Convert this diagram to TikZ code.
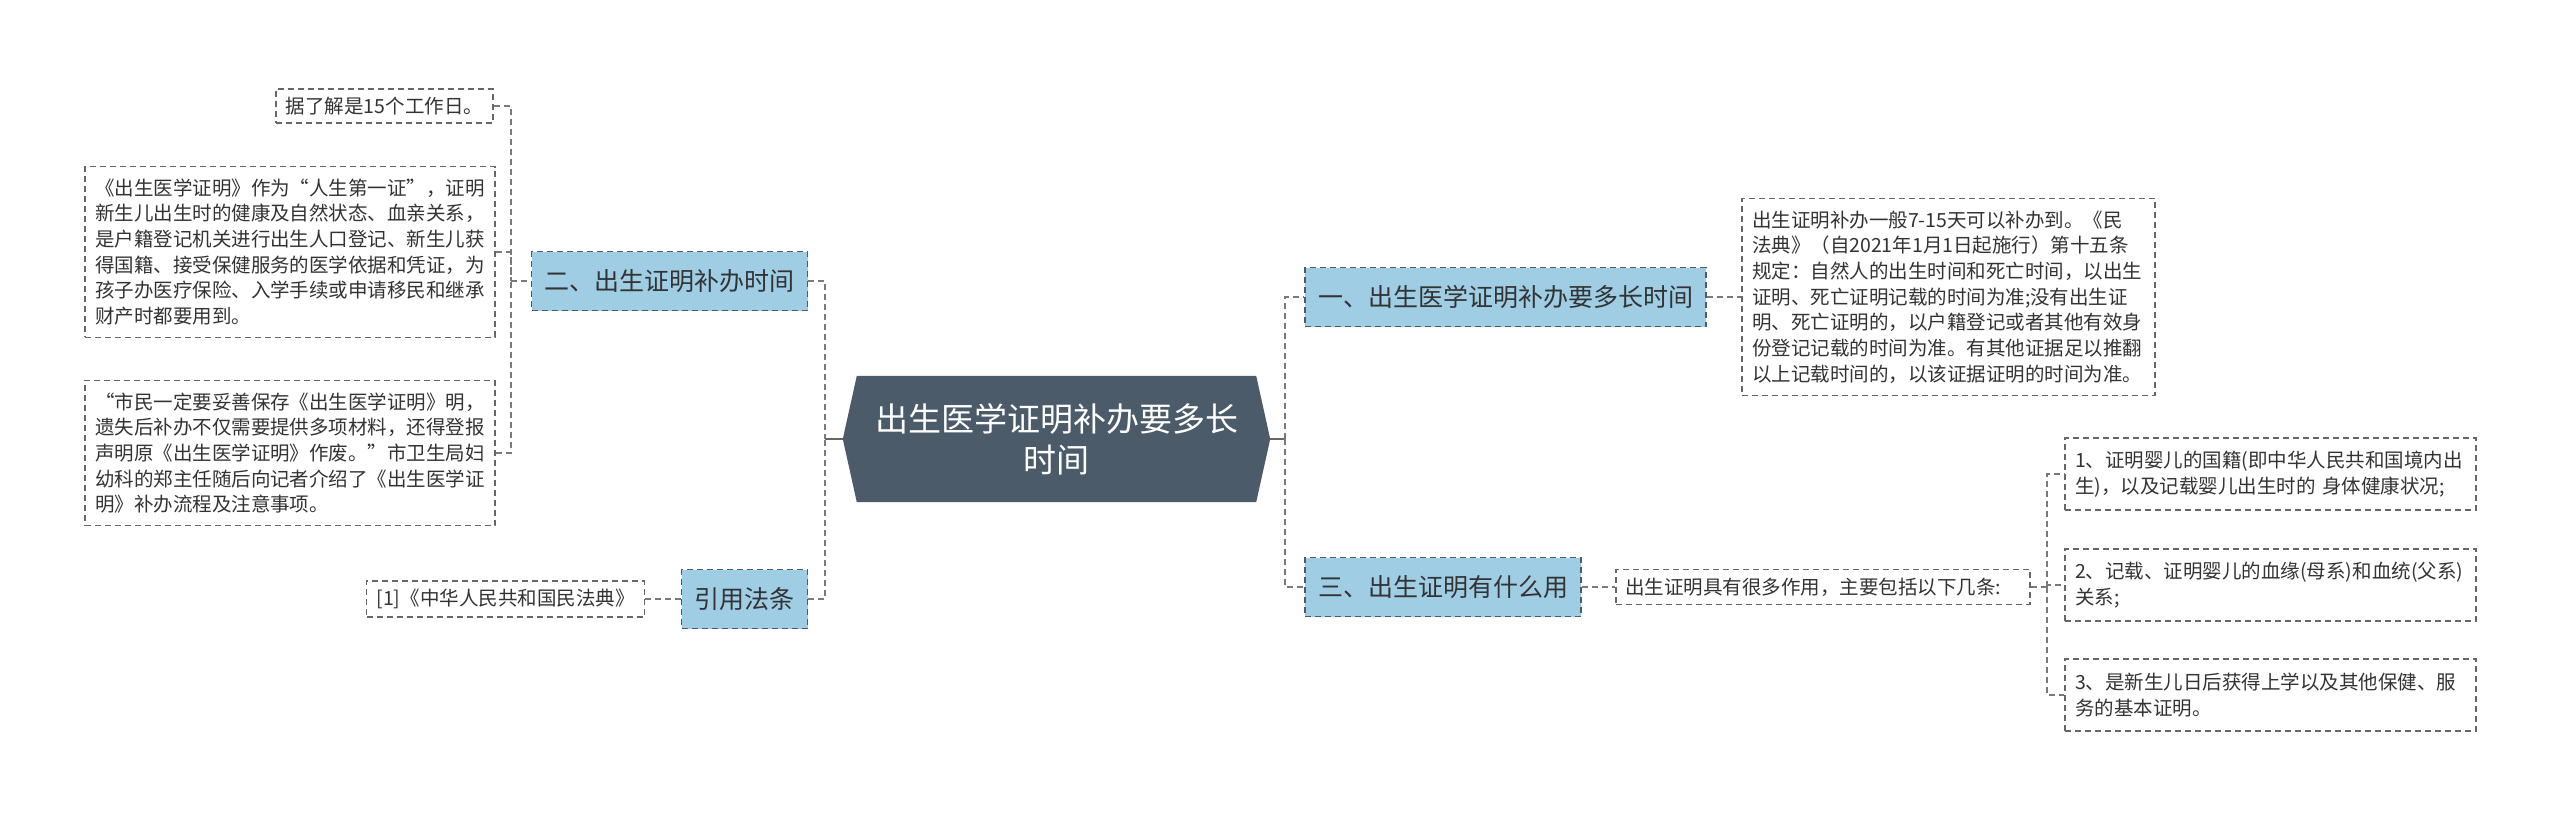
\documentclass[tikz,border=0pt]{standalone}
\usepackage{fontspec}
\setmainfont{Noto Sans CJK SC}
\usetikzlibrary{backgrounds,calc}
\definecolor{cRoot}{HTML}{4B5B6A}
\definecolor{cTopic}{HTML}{9ECDE4}
\definecolor{cTopicLine}{HTML}{4B5B6A}
\definecolor{cLine}{HTML}{7A7A7A}
\definecolor{cNote}{HTML}{666666}
\definecolor{cText}{HTML}{333333}
\tikzset{
  rootb/.style={minimum width=427pt, minimum height=126pt, inner sep=0pt,
                text=white, align=center, font=\fontsize{33}{41}\selectfont},
  topic/.style={draw=cTopicLine, fill=cTopic, dash pattern=on 6pt off 4pt,
                line width=1.3pt, inner xsep=13pt, minimum height=59pt,
                font=\fontsize{25}{30}\selectfont, text=cText},
  note/.style={draw=cNote, dash pattern=on 6pt off 4pt, line width=1.3pt,
               inner xsep=10pt, inner ysep=12pt, align=left,
               font=\fontsize{19.5}{25.7}\selectfont, text=cText},
  tag/.style={note, inner ysep=8pt},
  item/.style={note, text width=391pt, minimum height=72pt},
  link/.style={draw=cLine, line width=1.3pt, dash pattern=on 6pt off 4pt},
  trunk/.style={draw=cNote, line width=1.3pt},
}

\begin{document}
\begin{tikzpicture}[x=1pt, y=-1pt]
  \useasboundingbox (0,0) rectangle (2560,814);

  % centre
  \node[rootb] (root) at (1056.5,439) {出生医学证明补办要多长\\时间};
  \begin{scope}[on background layer]
    \fill[white] (0,0) rectangle (2560,814);
    \fill[cRoot] (root.west) -- ($(root.north west)+(14,0)$) -- ($(root.north east)+(-14,0)$)
      -- (root.east) -- ($(root.south east)+(-14,0)$) -- ($(root.south west)+(14,0)$) -- cycle;
  \end{scope}

  % left side
  \node[topic] (b2) at (669.5,281) {二、出生证明补办时间};
  \node[topic] (cite) at (744.5,599) {引用法条};
  \node[tag] (q0) at (384.5,106) {据了解是15个工作日。};
  \node[note, text width=390pt] (q1) at (290,252)
    {《出生医学证明》作为“人生第一证”，证明\\
     新生儿出生时的健康及自然状态、血亲关系，\\
     是户籍登记机关进行出生人口登记、新生儿获\\
     得国籍、接受保健服务的医学依据和凭证，为\\
     孩子办医疗保险、入学手续或申请移民和继承\\
     财产时都要用到。};
  \node[note, text width=390pt] (q2) at (290,453)
    {“市民一定要妥善保存《出生医学证明》明，\\
     遗失后补办不仅需要提供多项材料，还得登报\\
     声明原《出生医学证明》作废。”市卫生局妇\\
     幼科的郑主任随后向记者介绍了《出生医学证\\
     明》补办流程及注意事项。};
  \node[tag] (law) at (505.5,599) {[1]《中华人民共和国民法典》};

  % right side
  \node[topic] (b1) at (1505.5,297) {一、出生医学证明补办要多长时间};
  \node[note, text width=393pt] (t1) at (1948.5,297)
    {出生证明补办一般7-15天可以补办到。《民\\
     法典》（自2021年1月1日起施行）第十五条\\
     规定：自然人的出生时间和死亡时间，以出生\\
     证明、死亡证明记载的时间为准;没有出生证\\
     明、死亡证明的，以户籍登记或者其他有效身\\
     份登记记载的时间为准。有其他证据足以推翻\\
     以上记载时间的，以该证据证明的时间为准。};
  \node[topic] (b3) at (1443,587) {三、出生证明有什么用};
  \node[tag, text width=396pt, inner xsep=9pt] (t3) at (1823,587) {出生证明具有很多作用，主要包括以下几条:};
  \node[item] (r1) at (2270.5,474)
    {1、证明婴儿的国籍(即中华人民共和国境内出\\生)，以及记载婴儿出生时的 身体健康状况;};
  \node[item] (r2) at (2270.5,585)
    {2、记载、证明婴儿的血缘(母系)和血统(父系)\\关系;};
  \node[item] (r3) at (2270.5,695)
    {3、是新生儿日后获得上学以及其他保健、服\\务的基本证明。};

  % junctions
  \coordinate (jl) at (825,439);
  \coordinate (jq) at (511,281);
  \coordinate (jr) at (1285,439);
  \coordinate (jt) at (2047,587);

  \draw[trunk] (root.west) -- (jl);
  \draw[link] (b2.east) -| (jl);
  \draw[link] (cite.east) -| (jl);
  \draw[link] (jq) -- (b2.west);
  \draw[link] (q0.east) -| (jq);
  \draw[link] (q1.east) -| (jq);
  \draw[link] (q2.east) -| (jq);
  \draw[link] (law.east) -- (cite.west);

  \draw[trunk] (root.east) -- (jr);
  \draw[link] (jr) |- (b1.west);
  \draw[link] (jr) |- (b3.west);
  \draw[link] (b1.east) -- (t1.west);
  \draw[link] (b3.east) -- (t3.west);
  \draw[link] (t3.east) -- (jt);
  \draw[link] (jt) |- (r1.west);
  \draw[link] (jt) |- (r2.west);
  \draw[link] (jt) |- (r3.west);
\end{tikzpicture}
\end{document}
